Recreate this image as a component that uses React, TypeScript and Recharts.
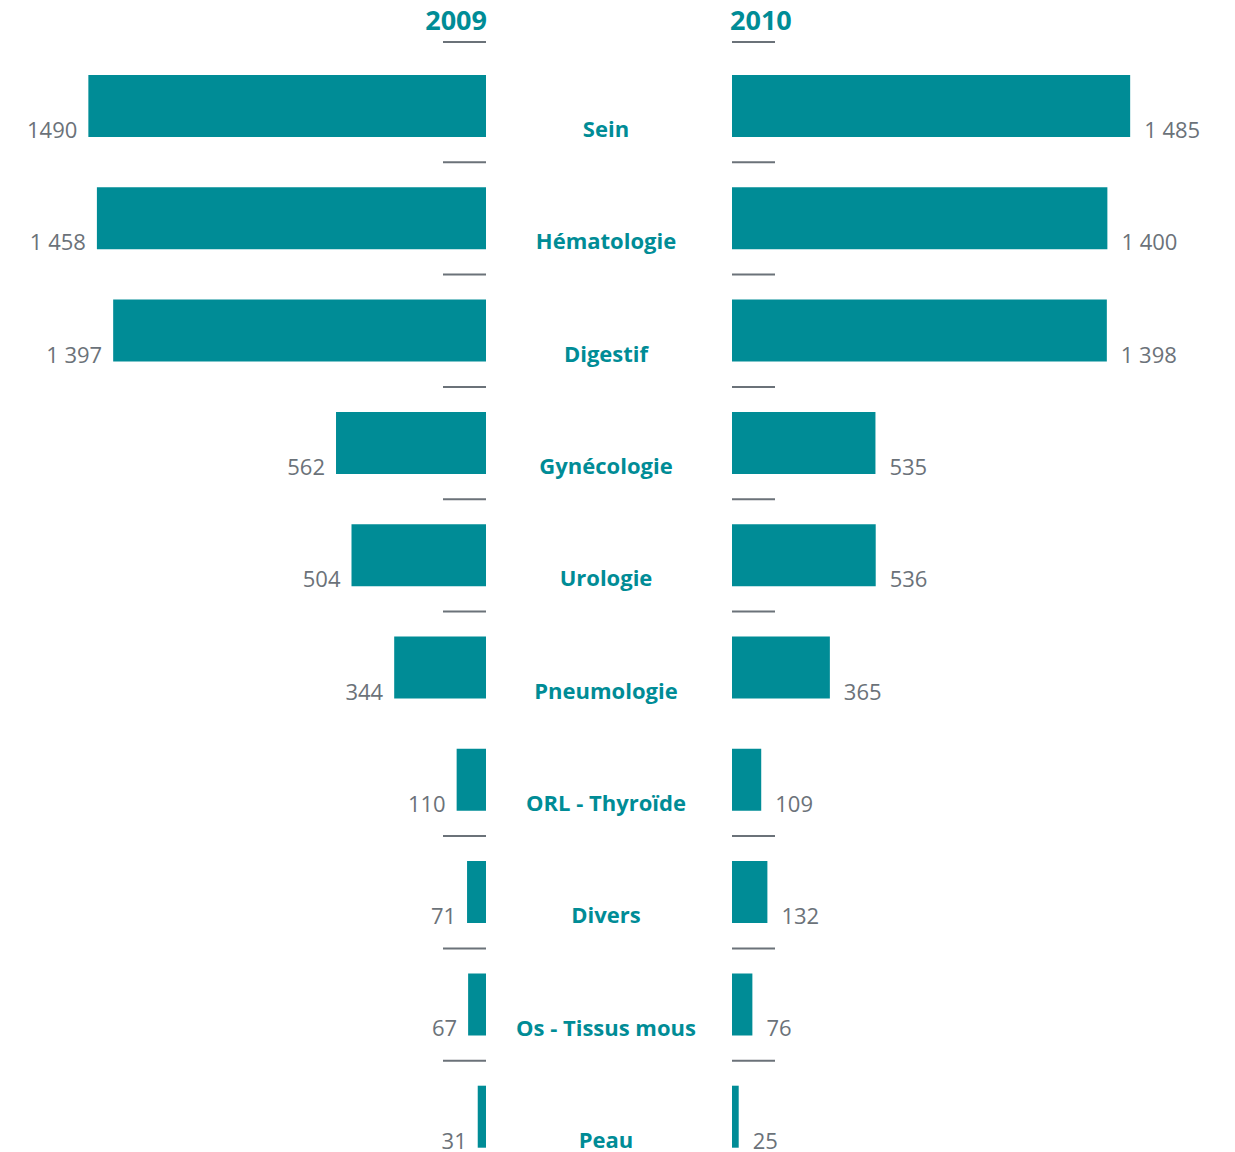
import React from "react";
import { BarChart, Bar, XAxis, YAxis, LabelList } from "recharts";

// data
const categories = [
  "Sein",
  "Hématologie",
  "Digestif",
  "Gynécologie",
  "Urologie",
  "Pneumologie",
  "ORL - Thyroïde",
  "Divers",
  "Os - Tissus mous",
  "Peau",
];
const values2009 = [1490, 1458, 1397, 562, 504, 344, 110, 71, 67, 31];
const values2010 = [1485, 1400, 1398, 535, 536, 365, 109, 132, 76, 25];
const labels2009 = ["1490", "1 458", "1 397", "562", "504", "344", "110", "71", "67", "31"];
const labels2010 = ["1 485", "1 400", "1 398", "535", "536", "365", "109", "132", "76", "25"];
// categories followed by a small divider
const dividers = [
  "Sein",
  "Hématologie",
  "Digestif",
  "Gynécologie",
  "Urologie",
  "ORL - Thyroïde",
  "Divers",
  "Os - Tissus mous",
];

const data = categories.map((name, i) => ({
  name,
  y2009: values2009[i],
  y2010: values2010[i],
}));

const TEAL = "#008c96";
const GREY = "#6b7279";
const FONT = "'Open Sans', sans-serif";

const W = 1235;
const H = 1173;
const TOP = 50;
const BAND = (H - TOP) / categories.length;
const LEFT_ZERO = 486;
const RIGHT_ZERO = 732;
const LEFT_PLOT_W = 427;
const RIGHT_PLOT_W = 429;
const DOMAIN: [number, number] = [0, 1600];

function LeftValue(props: any) {
  const { x, y, width, height, index, value } = props;
  const left = Math.min(x, x + width);
  return (
    <text x={left - 11} y={y + height + 1} textAnchor="end" fill={GREY} fontSize={22} fontFamily={FONT}>
      {labels2009[index] ?? value}
    </text>
  );
}

function RightValue(props: any) {
  const { x, y, width, height, index, value } = props;
  const right = Math.max(x, x + width);
  return (
    <text x={right + 14} y={y + height + 1} textAnchor="start" fill={GREY} fontSize={22} fontFamily={FONT}>
      {labels2010[index] ?? value}
    </text>
  );
}

function CategoryTick(props: any) {
  const { y, payload } = props;
  const name = payload.value;
  const lineY = y + BAND / 2;
  return (
    <g>
      <text x={606} y={y + 31} textAnchor="middle" fill={TEAL} fontSize={22} fontWeight={700} fontFamily={FONT}>
        {name}
      </text>
      {dividers.includes(name) && (
        <g stroke={GREY} strokeWidth={2}>
          <line x1={443} x2={LEFT_ZERO} y1={lineY} y2={lineY} />
          <line x1={RIGHT_ZERO} x2={775} y1={lineY} y2={lineY} />
        </g>
      )}
    </g>
  );
}

export default function App() {
  return (
    <div
      style={{
        position: "absolute",
        left: 0,
        top: 0,
        width: W,
        height: 1152,
        overflow: "hidden",
        background: "#fff",
        fontFamily: FONT,
      }}
    >
      <div style={{ position: "absolute", top: 0, left: 0 }}>
        <BarChart
          width={W}
          height={H}
          data={data}
          layout="vertical"
          margin={{ top: TOP, bottom: 0, left: LEFT_ZERO - LEFT_PLOT_W, right: W - LEFT_ZERO }}
        >
          <XAxis type="number" domain={DOMAIN} reversed hide />
          <YAxis type="category" dataKey="name" hide />
          <Bar dataKey="y2009" fill={TEAL} barSize={62} isAnimationActive={false}>
            <LabelList dataKey="y2009" content={LeftValue} />
          </Bar>
        </BarChart>
      </div>
      <div style={{ position: "absolute", top: 0, left: 0 }}>
        <BarChart
          width={W}
          height={H}
          data={data}
          layout="vertical"
          margin={{ top: TOP, bottom: 0, left: LEFT_ZERO, right: W - RIGHT_ZERO - RIGHT_PLOT_W }}
        >
          <XAxis type="number" domain={DOMAIN} hide />
          <YAxis
            type="category"
            dataKey="name"
            width={RIGHT_ZERO - LEFT_ZERO}
            tickLine={false}
            axisLine={false}
            tick={CategoryTick}
            interval={0}
          />
          <Bar dataKey="y2010" fill={TEAL} barSize={62} isAnimationActive={false}>
            <LabelList dataKey="y2010" content={RightValue} />
          </Bar>
        </BarChart>
      </div>
      {/* year headers */}
      <div
        style={{
          position: "absolute",
          top: 2,
          left: LEFT_ZERO - 120,
          width: 121,
          textAlign: "right",
          color: TEAL,
          fontWeight: 700,
          fontSize: 27,
          lineHeight: "36px",
        }}
      >
        2009
      </div>
      <div
        style={{
          position: "absolute",
          top: 2,
          left: RIGHT_ZERO - 2,
          color: TEAL,
          fontWeight: 700,
          fontSize: 27,
          lineHeight: "36px",
        }}
      >
        2010
      </div>
      <div style={{ position: "absolute", top: 41, left: 443, width: 43, height: 2, background: GREY }} />
      <div style={{ position: "absolute", top: 41, left: RIGHT_ZERO, width: 43, height: 2, background: GREY }} />
    </div>
  );
}
